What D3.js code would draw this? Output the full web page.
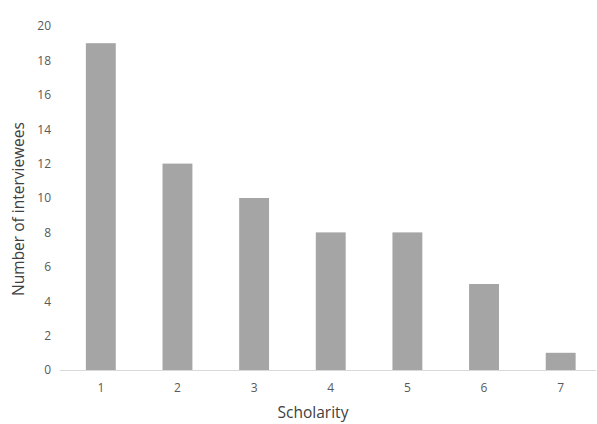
<!DOCTYPE html>
<html><head><meta charset="utf-8">
<script src="https://cdn.jsdelivr.net/npm/d3@7"></script>
<style>body{margin:0;background:#fff;}svg{display:block;}</style>
</head><body>
<svg id="c" width="597" height="424"></svg>
<script>
const categories = ["1","2","3","4","5","6","7"];
const values = [19, 12, 10, 8, 8, 5, 1];
const yTicks = [0,2,4,6,8,10,12,14,16,18,20];
const xTitle = "Scholarity";
const yTitle = "Number of interviewees";

const svg = d3.select("#c");
const font = "'Open Sans', sans-serif";
const x = d3.scaleBand().domain(categories).range([62.5, 599]).paddingInner(0.61).paddingOuter(0.305);
const y = d3.scaleLinear().domain([0, 20]).range([370, 26]);

// y axis labels
const ya = svg.append("g").attr("transform", "translate(51,0)")
  .call(d3.axisLeft(y).tickValues(yTicks).tickSize(0).tickPadding(0));
ya.select(".domain").remove();
ya.selectAll("text").attr("font-family", font).attr("font-size", 12).attr("fill", "#595959");

// bars
svg.append("g").selectAll("rect").data(values).join("rect")
  .attr("x", (d,i) => x(categories[i]))
  .attr("width", x.bandwidth())
  .attr("y", d => y(d))
  .attr("height", d => y(0) - y(d))
  .attr("fill", "#a5a5a5");

// x axis
const xa = svg.append("g").attr("transform", `translate(0,${y(0)})`)
  .call(d3.axisBottom(x).tickSize(0).tickPadding(13));
xa.select(".domain").attr("stroke", "#d9d9d9").attr("d", "M60,0.5H596");
xa.selectAll("text").attr("font-family", font).attr("font-size", 12).attr("fill", "#595959");

svg.append("text").attr("x", 313).attr("y", 418).attr("text-anchor", "middle")
  .attr("font-family", font).attr("font-size", 15.5).attr("fill", "#404040").text(xTitle);
svg.append("text").attr("transform", "translate(24,209) rotate(-90)").attr("text-anchor", "middle")
  .attr("font-family", font).attr("font-size", 15.5).attr("fill", "#404040").text(yTitle);
</script>
</body></html>
